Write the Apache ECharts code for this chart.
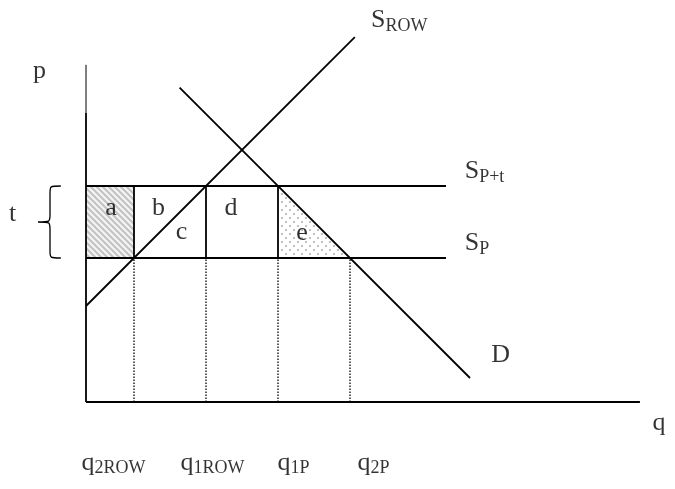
<!DOCTYPE html>
<html>
<head>
<meta charset="utf-8">
<style>
  html, body { margin: 0; padding: 0; background: #fff; }
  #chart { width: 675px; height: 489px; }
</style>
<script src="https://cdn.jsdelivr.net/npm/echarts@6.0.0/dist/echarts.min.js"></script>
</head>
<body>
<div id="chart"></div>
<script>
// price levels
const pWorld = 6;        // S_P
const pTariff = 9;       // S_P+t
const pAxisTop = 14.05;
const qAxisEnd = 23.08;
const priceLineEnd = 15;

// quantities at the two prices
const qTicks = [2, 5, 8, 11];            // q2ROW, q1ROW, q1P, q2P
const qTickSubs = ['2ROW', '1ROW', '1P', '2P'];

// curves
const supplyRow = [[0, 4], [11.2, 15.2]];
const demand = [[3.9, 13.1], [16, 1]];

// shaded areas
const areaA = [[0, 6], [2, 6], [2, 9], [0, 9]];
const areaE = [[8, 9], [8, 6], [11, 6]];

// area letters
const areaLetters = ['a', 'b', 'c', 'd', 'e'];

const FONT = "'Liberation Serif', 'Times New Roman', serif";

// segments [x1, y1, x2, y2]
const solidSegs = [
  [0, 0, qAxisEnd, 0],
  [0, 0, 0, 12.04],
  [0, pWorld, priceLineEnd, pWorld],
  [0, pTariff, priceLineEnd, pTariff],
  [supplyRow[0][0], supplyRow[0][1], supplyRow[1][0], supplyRow[1][1]],
  [demand[0][0], demand[0][1], demand[1][0], demand[1][1]]
];
qTicks.slice(0, 3).forEach(q => solidSegs.push([q, pWorld, q, pTariff]));
const dottedSegs = qTicks.map(q => [q, 0, q, pWorld]);

function makeHatch() {
  const c = document.createElement('canvas');
  c.width = 6; c.height = 6;
  const g = c.getContext('2d');
  g.fillStyle = '#f4f4f4';
  g.fillRect(0, 0, 6, 6);
  g.strokeStyle = '#c2c2c2';
  g.lineWidth = 2;
  g.beginPath();
  g.moveTo(-1, -1); g.lineTo(7, 7);
  g.moveTo(-1, 5); g.lineTo(1, 7);
  g.moveTo(5, -1); g.lineTo(7, 1);
  g.stroke();
  return c;
}
function makeDots() {
  const c = document.createElement('canvas');
  c.width = 8; c.height = 8;
  const g = c.getContext('2d');
  g.fillStyle = '#fff';
  g.fillRect(0, 0, 8, 8);
  g.fillStyle = '#acacac';
  [[2, 2], [6, 6]].forEach(p => { g.beginPath(); g.arc(p[0], p[1], 1, 0, Math.PI * 2); g.fill(); });
  return c;
}

const chart = echarts.init(document.getElementById('chart'));

function segSeries(data, dash, width) {
  return {
    type: 'custom',
    data: data,
    silent: true,
    renderItem: function (params, api) {
      const a = api.coord([api.value(0), api.value(1)]);
      const b = api.coord([api.value(2), api.value(3)]);
      return {
        type: 'line',
        shape: { x1: a[0], y1: a[1], x2: b[0], y2: b[1] },
        style: { stroke: '#000', lineWidth: width, lineDash: dash }
      };
    }
  };
}

function polySeries(points, fill) {
  return {
    type: 'custom',
    data: [0],
    silent: true,
    renderItem: function (params, api) {
      return {
        type: 'polygon',
        shape: { points: points.map(p => api.coord(p)) },
        style: { fill: fill, stroke: null }
      };
    }
  };
}

// curly brace spanning the tariff t
const braceSeries = {
  type: 'custom',
  data: [0],
  silent: true,
  clip: false,
  renderItem: function (params, api) {
    const top = api.coord([-1.05, pTariff]);
    const bot = api.coord([-1.05, pWorld]);
    const spine = api.coord([-1.5, 0])[0];
    const tip = api.coord([-2.0, 0])[0];
    const R = top[0], y0 = top[1], y1 = bot[1], m = (y0 + y1) / 2, r = 7;
    const d = 'M' + R + ' ' + y0 +
      ' C' + spine + ' ' + y0 + ' ' + spine + ' ' + y0 + ' ' + spine + ' ' + (y0 + r) +
      ' L' + spine + ' ' + (m - r) +
      ' C' + spine + ' ' + m + ' ' + spine + ' ' + m + ' ' + tip + ' ' + m +
      ' C' + spine + ' ' + m + ' ' + spine + ' ' + m + ' ' + spine + ' ' + (m + r) +
      ' L' + spine + ' ' + (y1 - r) +
      ' C' + spine + ' ' + y1 + ' ' + spine + ' ' + y1 + ' ' + R + ' ' + y1;
    return {
      type: 'path',
      shape: { pathData: d },
      style: { fill: null, stroke: '#000', lineWidth: 1.3 }
    };
  }
};

// text labels: anchor in data units
const labels = [
  { value: [-1.92, 13.75], main: 'p' },
  { value: [-3.04, 7.81], main: 't' },
  { value: [1.06, 8.06], main: areaLetters[0] },
  { value: [3.04, 8.06], main: areaLetters[1] },
  { value: [4.0, 7.04], main: areaLetters[2] },
  { value: [6.06, 8.06], main: areaLetters[3] },
  { value: [9.02, 7.02], main: areaLetters[4] },
  { value: [17.3, 1.95], main: 'D' },
  { value: [23.9, -0.9], main: 'q' },
  { value: [11.9, 15.9], main: 'S', sub: 'ROW', left: true },
  { value: [15.8, 9.6], main: 'S', sub: 'P+t', left: true },
  { value: [15.8, 6.6], main: 'S', sub: 'P', left: true }
];
const tickAnchors = [-0.17, 3.96, 8.0, 11.33];
qTickSubs.forEach((s, i) => labels.push({ value: [tickAnchors[i], -2.55], main: 'q', sub: s, left: true }));

chart.setOption({
  animation: false,
  grid: { left: 86, right: 34.6, top: 18, bottom: 87 },
  xAxis: { type: 'value', min: 0, max: 23.1, show: false },
  yAxis: { type: 'value', min: 0, max: 16, show: false },
  series: [
    polySeries(areaA, { image: makeHatch(), repeat: 'repeat' }),
    polySeries(areaE, { image: makeDots(), repeat: 'repeat' }),
    segSeries([[0, 12.04, 0, pAxisTop]], null, 1),
    segSeries(dottedSegs, [1.5, 1.5], 1.3),
    segSeries(solidSegs, null, 1.8),
    braceSeries,
    {
      type: 'scatter',
      clip: false,
      silent: true,
      symbolSize: 1,
      itemStyle: { color: 'rgba(0,0,0,0)' },
      data: labels.map(d => d.left ? Object.assign({}, d, { label: { align: 'left' } }) : d),
      label: {
        show: true,
        position: [0, 0],
        verticalAlign: 'middle',
        align: 'center',
        color: '#000',
        fontFamily: FONT,
        formatter: function (p) {
          const d = p.data;
          return d.sub ? '{m|' + d.main + '}{s|' + d.sub + '}' : '{m|' + d.main + '}';
        },
        rich: {
          m: { fontSize: 26, fontFamily: FONT, color: '#000', lineHeight: 30 },
          s: { fontSize: 18, fontFamily: FONT, color: '#000', lineHeight: 18, verticalAlign: 'bottom' }
        }
      }
    }
  ]
});
</script>
</body>
</html>
